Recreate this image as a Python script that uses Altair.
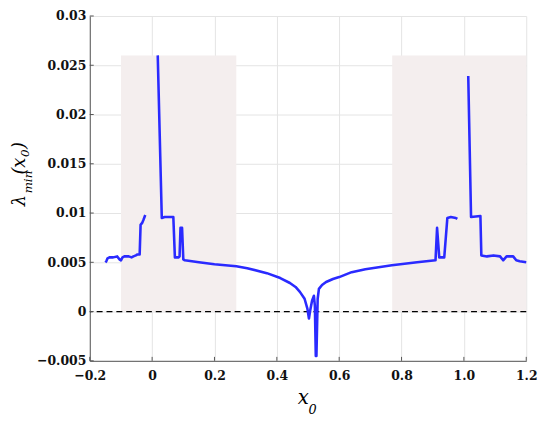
import altair as alt
import pandas as pd

# ---- data ----
shade_x0 = [-0.1, 0.77]
shade_x1 = [0.27, 1.2]
shade_lo = [0.0, 0.0]
shade_hi = [0.026, 0.026]

seg_a_x = [-0.150, -0.147, -0.143, -0.137, -0.125, -0.112, -0.105, -0.100, -0.095, -0.089,
           -0.075, -0.066, -0.060, -0.052, -0.047, -0.040, -0.037, -0.032, -0.028, -0.022]
seg_a_y = [0.0050, 0.0051, 0.0054, 0.0055, 0.0055, 0.0056, 0.0053, 0.0052, 0.0055, 0.0056,
           0.0056, 0.0055, 0.0056, 0.0057, 0.0058, 0.0058, 0.0088, 0.0090, 0.0093, 0.0098]

seg_b_x = [0.018, 0.031, 0.040, 0.068, 0.073, 0.085, 0.088, 0.091, 0.096, 0.100,
           0.105, 0.150, 0.200, 0.270, 0.305, 0.368, 0.411, 0.442, 0.460, 0.474,
           0.489, 0.498, 0.503, 0.507, 0.513, 0.519, 0.522, 0.525, 0.527, 0.531,
           0.535, 0.545, 0.558, 0.580, 0.600, 0.640, 0.684, 0.769, 0.850, 0.909,
           0.914, 0.921, 0.937, 0.947, 0.958, 0.974, 0.979]
seg_b_y = [0.0260, 0.0095, 0.0096, 0.0096, 0.0055, 0.0055, 0.0056, 0.0085, 0.0085, 0.0053,
           0.0052, 0.0050, 0.0048, 0.0046, 0.0044, 0.0039, 0.0034, 0.0029, 0.0025, 0.0020,
           0.0013, 0.0003, -0.0007, 0.0001, 0.0011, 0.0016, 0.0006, -0.0045, -0.0045, 0.0013,
           0.0023, 0.0027, 0.0030, 0.0033, 0.0035, 0.0040, 0.0043, 0.0047, 0.0050, 0.0052,
           0.0085, 0.0055, 0.0055, 0.0095, 0.0096, 0.0095, 0.0094]

seg_c_x = [1.014, 1.023, 1.053, 1.056, 1.074, 1.095, 1.116, 1.126, 1.137, 1.158,
           1.168, 1.179, 1.200]
seg_c_y = [0.0239, 0.0096, 0.0097, 0.0057, 0.0056, 0.0057, 0.0056, 0.0052, 0.0056, 0.0056,
           0.0052, 0.0051, 0.0050]

x_ticks = [-0.2, 0.0, 0.2, 0.4, 0.6, 0.8, 1.0, 1.2]
x_tick_labels = ["\u22120.2", "0", "0.2", "0.4", "0.6", "0.8", "1.0", "1.2"]
y_ticks = [-0.005, 0.0, 0.005, 0.01, 0.015, 0.02, 0.025, 0.03]

W, H = 443, 350
FONT_L = "DejaVu Serif Condensed, DejaVu Serif"
FONT_T = "DejaVu Serif"
BLUE = "#2a2aff"

line_df = pd.DataFrame({
    "x": seg_a_x + seg_b_x + seg_c_x,
    "y": seg_a_y + seg_b_y + seg_c_y,
    "seg": ["a"] * len(seg_a_x) + ["b"] * len(seg_b_x) + ["c"] * len(seg_c_x),
})
line_df["order"] = range(len(line_df))

shade_df = pd.DataFrame({"x0": shade_x0, "x1": shade_x1, "y0": shade_lo, "y1": shade_hi})

xscale = alt.Scale(domain=[-0.2, 1.2], nice=False, zero=False)
yscale = alt.Scale(domain=[-0.005, 0.03], nice=False, zero=False)

label_expr = ""
for v, t in zip(x_ticks, x_tick_labels):
    label_expr += f"abs(datum.value - ({v})) < 1e-6 ? '{t}' : "
label_expr += "''"

xaxis = alt.Axis(values=x_ticks, labelExpr=label_expr, title=None, grid=True,
                 ticks=False, tickSize=0, labelPadding=8, labelFont=FONT_L,
                 labelFontSize=14, labelFontWeight="bold", labelColor="#111",
                 domainColor="#555", gridColor="#e4e4e4", labelFlush=False)
yaxis = alt.Axis(values=y_ticks, format="~g", title=None, grid=True,
                 ticks=False, tickSize=0, labelPadding=4, labelFont=FONT_L,
                 labelFontSize=14, labelFontWeight="bold", labelColor="#111",
                 domainColor="#555", gridColor="#e4e4e4", labelFlush=False)

shade = alt.Chart(shade_df).mark_rect(color="#f4eeee").encode(
    x=alt.X("x0:Q", scale=xscale, axis=xaxis),
    x2="x1:Q",
    y=alt.Y("y0:Q", scale=yscale, axis=yaxis),
    y2="y1:Q",
)

zero_line = alt.Chart(pd.DataFrame({"z": [0.0]})).mark_rule(
    color="black", strokeDash=[6, 4], strokeWidth=1.3
).encode(y=alt.Y("z:Q", scale=yscale))

line = alt.Chart(line_df).mark_line(color=BLUE, strokeWidth=2.6, strokeJoin="round").encode(
    x=alt.X("x:Q", scale=xscale),
    y=alt.Y("y:Q", scale=yscale),
    detail="seg:N",
    order="order:Q",
)

yt = alt.Chart(pd.DataFrame({"v": y_ticks})).mark_rule(color="#555", strokeWidth=1).encode(
    y=alt.Y("v:Q", scale=yscale), x=alt.value(0), x2=alt.value(4))
xt = alt.Chart(pd.DataFrame({"v": x_ticks})).mark_rule(color="#555", strokeWidth=1).encode(
    x=alt.X("v:Q", scale=xscale), y=alt.value(H), y2=alt.value(H - 4))

dummy = pd.DataFrame({"a": [0]})

def txt(s, px, py, size, angle=0, align="left"):
    return alt.Chart(dummy).mark_text(
        text=s, font=FONT_T, fontSize=size, fontStyle="italic", angle=angle,
        align=align, baseline="alphabetic", color="black"
    ).encode(x=alt.value(px), y=alt.value(py))

titles = [
    # x-axis title  x_0
    txt("x", 211, 394, 20),
    txt("0", 222, 404, 13),
    # y-axis title  lambda_min(x_0), rotated
    txt("\u03bb", -65.7, 193, 18, angle=270),
    txt("min", -58.7, 180, 12, angle=270),
    txt("(x", -65.7, 161, 18, angle=270),
    txt("0", -62, 143, 12, angle=270),
    txt(")", -65.7, 135, 18, angle=270),
]

chart = alt.layer(shade, zero_line, line, yt, xt, *titles).properties(
    width=W, height=H,
    autosize=alt.AutoSizeParams(type="none"),
    padding={"left": 83, "top": 5, "right": 16, "bottom": 60},
).configure_view(strokeWidth=0)

chart.save("out.html", embed_options={"renderer": "svg", "actions": False})
